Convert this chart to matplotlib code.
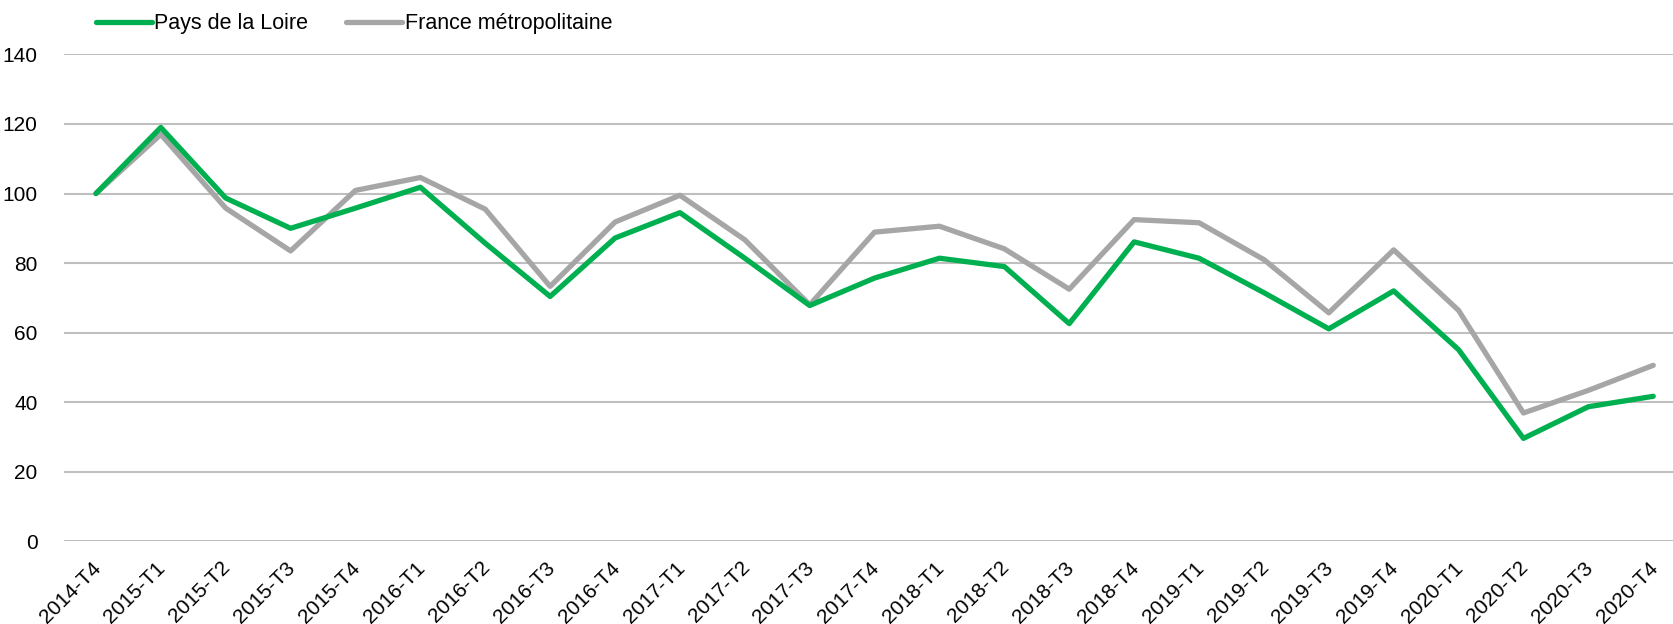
import matplotlib
matplotlib.use("Agg")
import matplotlib.pyplot as plt
from matplotlib.transforms import ScaledTranslation

plt.rcParams['font.family'] = ['Liberation Sans', 'DejaVu Sans']

# trimestres
trimestres = ['2014-T4',
              '2015-T1', '2015-T2', '2015-T3', '2015-T4',
              '2016-T1', '2016-T2', '2016-T3', '2016-T4',
              '2017-T1', '2017-T2', '2017-T3', '2017-T4',
              '2018-T1', '2018-T2', '2018-T3', '2018-T4',
              '2019-T1', '2019-T2', '2019-T3', '2019-T4',
              '2020-T1', '2020-T2', '2020-T3', '2020-T4']

# indices (base 100 au 2014-T4)
pays_de_la_loire = [100, 119.0, 98.7, 90.0, 95.8,
                    101.8, 85.7, 70.4, 87.2,
                    94.5, 81.4, 67.8, 75.7,
                    81.4, 79.0, 62.6, 86.1,
                    81.4, 71.5, 61.1, 72.0,
                    55.1, 29.6, 38.7, 41.7]
france_metro = [100, 117.0, 95.8, 83.5, 100.9,
                104.6, 95.5, 73.3, 91.8,
                99.5, 86.7, 68.0, 88.9,
                90.6, 84.1, 72.5, 92.5,
                91.6, 81.0, 65.7, 83.8,
                66.4, 36.9, 43.4, 50.6]
y_ticks = [0, 20, 40, 60, 80, 100, 120, 140]

fig = plt.figure(figsize=(16.74, 6.24), dpi=100)
ax = fig.add_axes([0.0382, 0.1325, 0.9618, 0.7803])

x = list(range(len(trimestres)))
ax.plot(x, pays_de_la_loire, color='#00B050', lw=3.8, label='Pays de la Loire',
        solid_joinstyle='round', solid_capstyle='round', zorder=3)
ax.plot(x, france_metro, color='#A6A6A6', lw=3.8, label='France métropolitaine',
        solid_joinstyle='round', solid_capstyle='round', zorder=2)

ax.set_xlim(-0.493, len(trimestres) - 1 + 0.32)
ax.set_ylim(0, 140)
ax.set_yticks(y_ticks)
ax.set_xticks(x)
ax.set_xticklabels(trimestres, rotation=45, ha='right', rotation_mode='anchor')
ax.tick_params(axis='both', length=0, labelsize=15, colors='black')
ax.tick_params(axis='y', pad=19)
ax.tick_params(axis='x', pad=12)
# petit décalage vers la gauche des étiquettes inclinées
decal = ScaledTranslation(-5 / 100, 0, fig.dpi_scale_trans)
for lab in ax.get_xticklabels():
    lab.set_transform(lab.get_transform() + decal)

ax.yaxis.grid(True, color='#BFBFBF', lw=1.5)
ax.set_axisbelow(True)
for s in ax.spines.values():
    s.set_visible(False)

fig.legend(loc='upper left', bbox_to_anchor=(0.0455, 1.01), ncol=2, frameon=False,
           fontsize=15.5, handlelength=2.6, handletextpad=0.1, columnspacing=1.8)

fig.savefig('out.png', dpi=100)
